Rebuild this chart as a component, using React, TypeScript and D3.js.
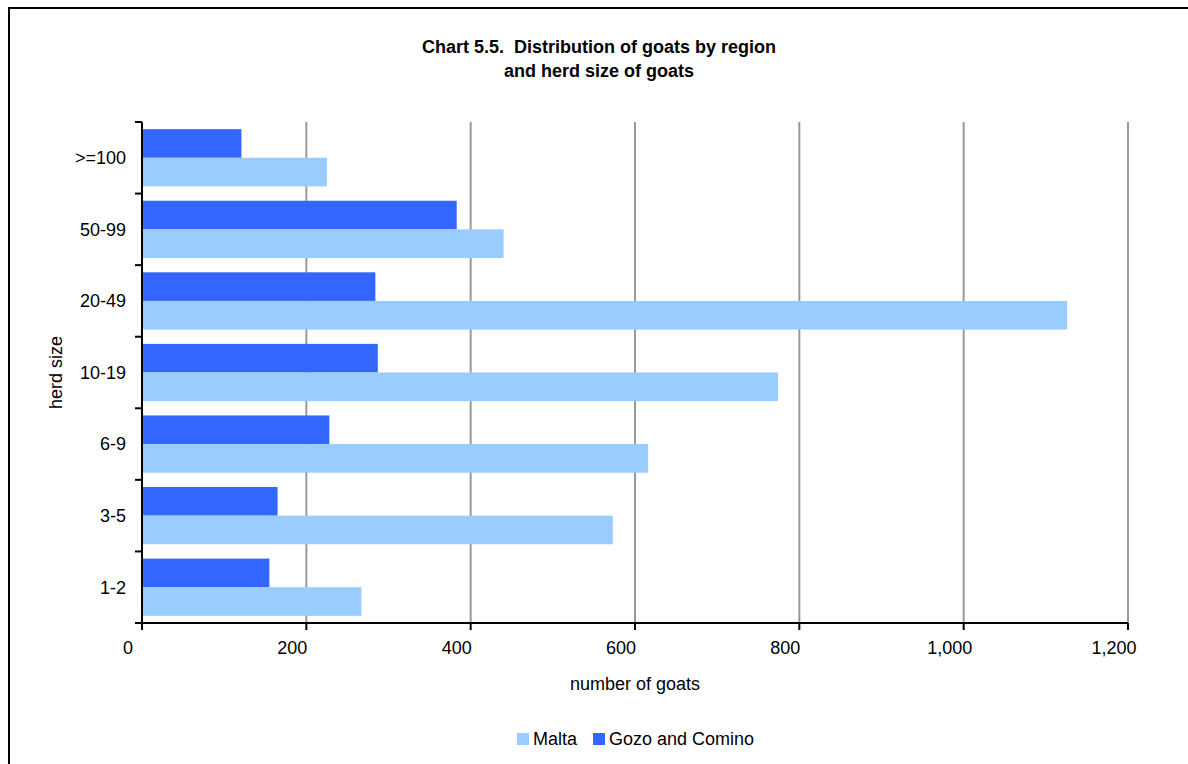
import React from "react";
import * as d3 from "d3";

const categories = [">=100", "50-99", "20-49", "10-19", "6-9", "3-5", "1-2"];
const seriesNames = ["Gozo and Comino", "Malta"];
const gozoValues = [121, 383, 284, 287, 228, 165, 155];
const maltaValues = [225, 440, 1126, 774, 616, 573, 267];
const xTicks = [0, 200, 400, 600, 800, 1000, 1200];
const legendOrder = ["Malta", "Gozo and Comino"];
const colors: Record<string, string> = { Malta: "#99ccff", "Gozo and Comino": "#3366ff" };

const W = 1188;
const H = 764;
const left = 142;
const right = 1128;
const top = 122;
const bottom = 623;
const FONT = "'Liberation Sans', Arial, sans-serif";
const FS = 18;

export default function App() {
  const x = d3.scaleLinear().domain([0, 1200]).range([left, right]);
  const y = d3.scaleBand<string>().domain(categories).range([top, bottom]).padding(0);
  const inner = d3
    .scaleBand<string>()
    .domain(seriesNames)
    .range([0, y.bandwidth()])
    .paddingInner(0)
    .paddingOuter(0.25);
  const valuesBySeries: Record<string, number[]> = {
    "Gozo and Comino": gozoValues,
    Malta: maltaValues,
  };
  const fmt = d3.format(",");
  const boundaries = categories.map((c) => y(c)!).concat([bottom]);

  return (
    <svg
      width={W}
      height={H}
      style={{ position: "absolute", left: 0, top: 0, background: "#fff" }}
      fontFamily={FONT}
    >
      <rect x={0} y={0} width={W} height={H} fill="#fff" />
      <rect x={9} y={8} width={1300} height={900} fill="none" stroke="#000" strokeWidth={2} />
      <text x={599} y={53} textAnchor="middle" fontSize={FS} fontWeight="bold" style={{ whiteSpace: "pre" }}>
        {"Chart 5.5.  Distribution of goats by region"}
      </text>
      <text x={599} y={77} textAnchor="middle" fontSize={FS} fontWeight="bold">
        and herd size of goats
      </text>
      {/* gridlines */}
      {xTicks.slice(1).map((t) => (
        <line key={"g" + t} x1={x(t)} x2={x(t)} y1={top} y2={bottom} stroke="#999" strokeWidth={2} />
      ))}
      {/* bars */}
      {seriesNames.map((s) =>
        categories.map((c, i) => (
          <rect
            key={s + c}
            x={x(0)}
            y={y(c)! + inner(s)!}
            width={x(valuesBySeries[s][i]) - x(0)}
            height={inner.bandwidth()}
            fill={colors[s]}
          />
        ))
      )}
      {/* y axis */}
      <line x1={left} x2={left} y1={top} y2={bottom + 7} stroke="#000" strokeWidth={2} />
      {boundaries.map((b, i) => (
        <line key={"yt" + i} x1={left - 7} x2={left} y1={b} y2={b} stroke="#000" strokeWidth={2} />
      ))}
      {categories.map((c) => (
        <text key={"yl" + c} x={126} y={y(c)! + y.bandwidth() / 2} dy="0.35em" textAnchor="end" fontSize={FS}>
          {c}
        </text>
      ))}
      {/* x axis */}
      <line x1={left - 7} x2={right} y1={bottom} y2={bottom} stroke="#000" strokeWidth={2} />
      {xTicks.map((t) => (
        <line key={"xt" + t} x1={x(t)} x2={x(t)} y1={bottom} y2={bottom + 7} stroke="#000" strokeWidth={2} />
      ))}
      {xTicks.map((t) => (
        <text key={"xl" + t} x={x(t) - 14} y={654} textAnchor="middle" fontSize={FS}>
          {fmt(t)}
        </text>
      ))}
      <text x={635} y={690} textAnchor="middle" fontSize={FS}>
        number of goats
      </text>
      <text
        transform={`translate(62, ${(top + bottom) / 2}) rotate(-90)`}
        textAnchor="middle"
        fontSize={FS}
      >
        herd size
      </text>
      {/* legend */}
      {legendOrder.map((s, i) => {
        const lx = i === 0 ? 517 : 593;
        return (
          <g key={"lg" + s}>
            <rect x={lx} y={733} width={12} height={12} fill={colors[s]} />
            <text x={lx + 16} y={745} fontSize={FS}>
              {s}
            </text>
          </g>
        );
      })}
    </svg>
  );
}
